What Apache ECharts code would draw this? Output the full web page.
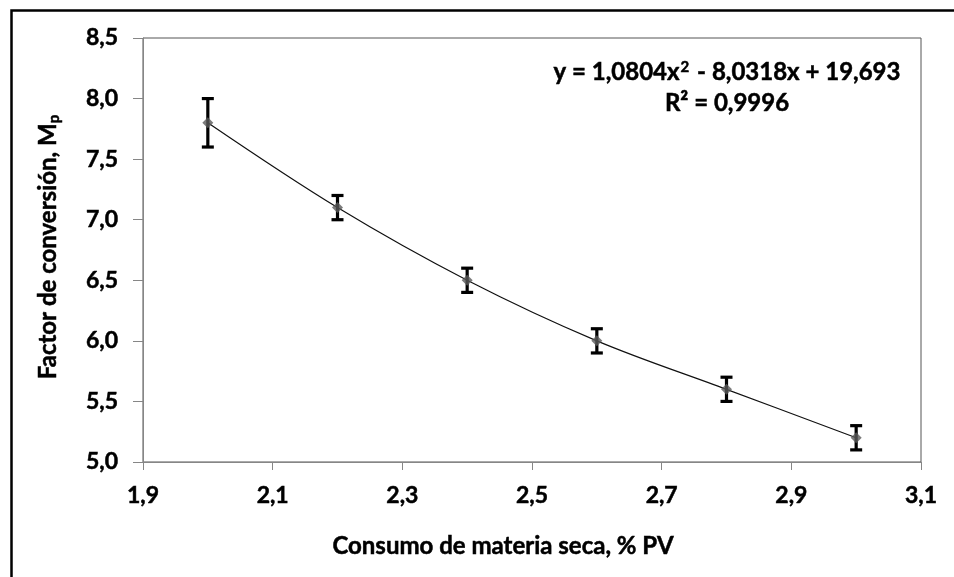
<!DOCTYPE html>
<html>
<head>
<meta charset="utf-8">
<script src="https://cdn.jsdelivr.net/npm/echarts@6/dist/echarts.min.js"></script>
<style>
html,body{margin:0;padding:0;background:#fff;}
#c{width:954px;height:577px;}
</style>
</head>
<body>
<div id="c"></div>
<script>
// Data
const xValues = [2.0, 2.2, 2.4, 2.6, 2.8, 3.0];
const yValues = [7.8, 7.1, 6.5, 6.0, 5.6, 5.2];
const errLow  = [7.6, 7.0, 6.4, 5.9, 5.5, 5.1];
const errHigh = [8.0, 7.2, 6.6, 6.1, 5.7, 5.3];
const xTitle = 'Consumo de materia seca, % PV';
const yTitle = 'Factor de conversión, M';
const yTitleSub = 'p';
const eqLine1 = ['y = 1,0804x', '2', ' - 8,0318x + 19,693'];
const eqLine2 = 'R² = 0,9996';

const FONT = 'Lato';
const fmt = v => v.toFixed(1).replace('.', ',');
const heavy = {textBorderColor: '#000', textBorderWidth: 0.5};
const heavyG = {stroke: '#000', lineWidth: 0.5};

const points = xValues.map((x, i) => [x, yValues[i]]);
const errData = xValues.map((x, i) => [x, errLow[i], errHigh[i]]);

const chart = echarts.init(document.getElementById('c'), null, {renderer: 'canvas'});
chart.setOption({
  animation: false,
  backgroundColor: '#fff',
  grid: {left: 143, top: 38, right: 33, bottom: 115, show: true, borderColor: '#555', borderWidth: 1},
  xAxis: {
    type: 'value', min: 1.9, max: 3.1, interval: 0.2,
    name: xTitle, nameLocation: 'middle', nameGap: 72,
    nameTextStyle: Object.assign({fontFamily: FONT, fontWeight: 'bold', fontSize: 24, color: '#000', padding: [0, 58, 0, 0]}, heavy),
    axisLine: {show: true, lineStyle: {color: '#868686', width: 1}},
    axisTick: {show: true, length: 8, lineStyle: {color: '#868686'}},
    axisLabel: Object.assign({formatter: fmt, fontFamily: FONT, fontWeight: 'bold', fontSize: 23, color: '#000', margin: 22}, heavy),
    splitLine: {show: false}
  },
  yAxis: {
    type: 'value', min: 5.0, max: 8.5, interval: 0.5,
    axisLine: {show: true, lineStyle: {color: '#868686', width: 1}},
    axisTick: {show: true, length: 10, lineStyle: {color: '#868686'}},
    axisLabel: Object.assign({formatter: fmt, fontFamily: FONT, fontWeight: 'bold', fontSize: 23, color: '#000', margin: 25}, heavy),
    splitLine: {show: false}
  },
  series: [
    {
      type: 'line', data: points, smooth: 0.35, symbol: 'none',
      lineStyle: {color: '#111', width: 1.2}, z: 2
    },
    {
      type: 'custom', data: errData, z: 4,
      renderItem: function (params, api) {
        const x = api.value(0);
        const lo = api.coord([x, api.value(1)]);
        const hi = api.coord([x, api.value(2)]);
        const hw = 6;
        const st = {stroke: '#000', lineWidth: 3.2};
        return {type: 'group', children: [
          {type: 'line', shape: {x1: lo[0], y1: lo[1], x2: hi[0], y2: hi[1]}, style: st},
          {type: 'line', shape: {x1: lo[0] - hw, y1: lo[1], x2: lo[0] + hw, y2: lo[1]}, style: st},
          {type: 'line', shape: {x1: hi[0] - hw, y1: hi[1], x2: hi[0] + hw, y2: hi[1]}, style: st}
        ]};
      }
    },
    {
      type: 'scatter', data: points, symbol: 'diamond', symbolSize: 11,
      itemStyle: {color: '#5a5a5a'}, z: 5
    }
  ],
  graphic: [
    {type: 'rect', left: 9, top: 8, shape: {width: 960, height: 600}, silent: true,
      style: {fill: 'none', stroke: '#000', lineWidth: 2.5}, z: 100},
    {type: 'text', silent: true, x: 48, y: 247, rotation: Math.PI / 2,
      style: Object.assign({x: 0, y: 0, text: yTitle + '{s|' + yTitleSub + '}',
        fontFamily: FONT, fontWeight: 'bold', fontSize: 24, fill: '#000', align: 'center', verticalAlign: 'middle',
        rich: {s: Object.assign({fontFamily: FONT, fontWeight: 'bold', fontSize: 15, fill: '#000', verticalAlign: 'bottom', padding: [12, 0, 0, 0]}, heavyG)}}, heavyG)},
    {type: 'text', silent: true,
      style: Object.assign({x: 727, y: 72, text: eqLine1[0] + '{sup|' + eqLine1[1] + '}' + eqLine1[2],
        fontFamily: FONT, fontWeight: 'bold', fontSize: 24, fill: '#000', align: 'center', verticalAlign: 'middle',
        rich: {sup: Object.assign({fontFamily: FONT, fontWeight: 'bold', fontSize: 15, fill: '#000', verticalAlign: 'top', padding: [0, 2, 10, 1]}, heavyG)}}, heavyG)},
    {type: 'text', silent: true,
      style: Object.assign({x: 727, y: 103, text: eqLine2, fontFamily: FONT, fontWeight: 'bold', fontSize: 24, fill: '#000', align: 'center', verticalAlign: 'middle'}, heavyG)}
  ]
});
</script>
</body>
</html>
